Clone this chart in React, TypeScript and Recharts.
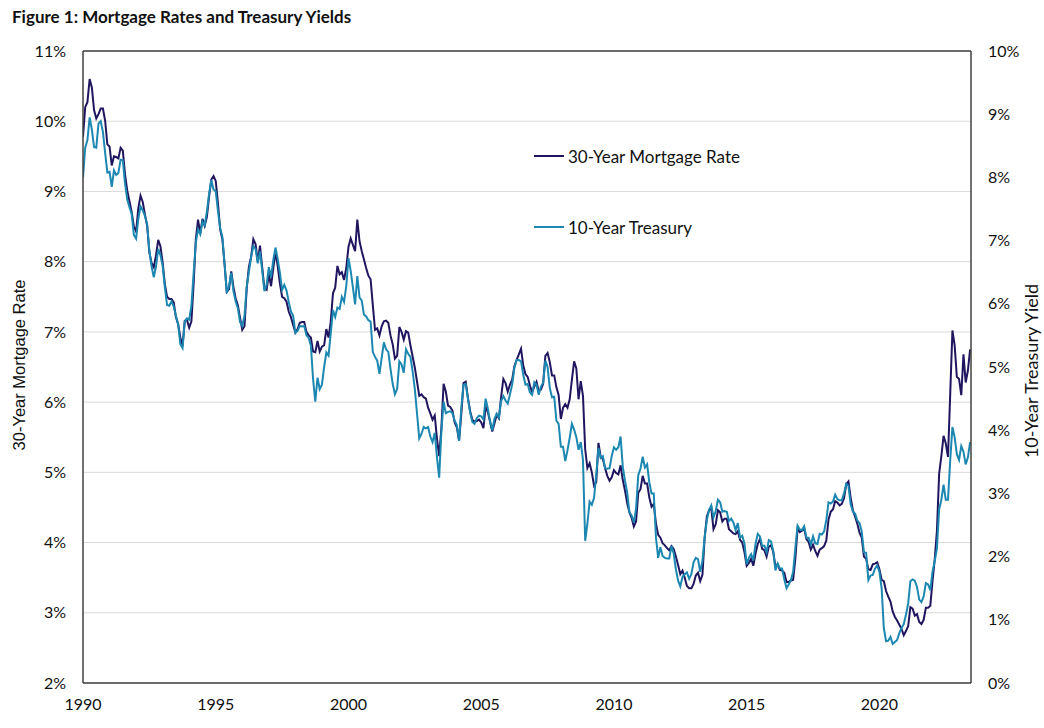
import React from "react";
import { LineChart, Line, XAxis, YAxis, CartesianGrid, ReferenceLine, Legend } from "recharts";

// Monthly observations, January 1990 through June 2023
const startYear = 1990;

// 30-Year fixed mortgage rate (%), left axis
const mortgageRate: number[] = [
  9.78, 10.2, 10.27, 10.6, 10.48, 10.16, 10.04, 10.1, 10.18, 10.18, 10.01, 9.67,
  9.64, 9.37, 9.5, 9.49, 9.47, 9.62, 9.58, 9.24, 9.01, 8.86, 8.71, 8.5,
  8.43, 8.76, 8.94, 8.85, 8.67, 8.51, 8.13, 7.98, 7.92, 8.09, 8.31, 8.22,
  7.99, 7.68, 7.5, 7.47, 7.47, 7.42, 7.21, 7.11, 6.92, 6.8, 7.16, 7.17,
  7.06, 7.15, 7.68, 8.32, 8.6, 8.4, 8.61, 8.51, 8.64, 8.93, 9.17, 9.22,
  9.15, 8.83, 8.46, 8.32, 7.96, 7.57, 7.61, 7.86, 7.64, 7.48, 7.38, 7.2,
  7.03, 7.08, 7.62, 7.93, 8.07, 8.32, 8.25, 8.0, 8.23, 7.92, 7.62, 7.6,
  7.82, 7.65, 7.9, 8.14, 7.94, 7.69, 7.5, 7.48, 7.43, 7.29, 7.21, 7.1,
  6.99, 7.04, 7.13, 7.14, 7.14, 7.0, 6.95, 6.92, 6.72, 6.71, 6.87, 6.72,
  6.79, 6.81, 7.04, 6.92, 7.15, 7.55, 7.63, 7.94, 7.82, 7.85, 7.74, 7.91,
  8.21, 8.33, 8.24, 8.15, 8.6, 8.29, 8.15, 8.03, 7.91, 7.8, 7.75, 7.38,
  7.03, 7.05, 6.95, 7.08, 7.15, 7.16, 7.13, 6.95, 6.82, 6.62, 6.66, 7.07,
  7.0, 6.89, 7.01, 6.99, 6.81, 6.65, 6.49, 6.29, 6.09, 6.11, 6.07, 6.05,
  5.92, 5.84, 5.75, 5.81, 5.48, 5.23, 5.63, 6.26, 6.15, 5.95, 5.93, 5.88,
  5.71, 5.64, 5.45, 5.83, 6.27, 6.29, 6.06, 5.87, 5.75, 5.72, 5.73, 5.75,
  5.71, 5.63, 5.93, 5.86, 5.72, 5.58, 5.7, 5.82, 5.77, 6.07, 6.33, 6.27,
  6.15, 6.25, 6.32, 6.51, 6.6, 6.68, 6.76, 6.52, 6.4, 6.36, 6.24, 6.14,
  6.22, 6.29, 6.16, 6.18, 6.26, 6.66, 6.7, 6.57, 6.38, 6.38, 6.21, 6.1,
  5.76, 5.92, 5.97, 5.92, 6.04, 6.32, 6.58, 6.48, 6.04, 6.3, 6.09, 5.33,
  5.06, 5.13, 5.0, 4.81, 4.86, 5.42, 5.22, 5.19, 5.06, 4.95, 4.88, 4.93,
  5.03, 4.99, 4.97, 5.1, 4.89, 4.74, 4.56, 4.43, 4.35, 4.23, 4.3, 4.71,
  4.76, 4.95, 4.84, 4.84, 4.64, 4.51, 4.55, 4.27, 4.11, 4.07, 3.99, 3.96,
  3.92, 3.89, 3.95, 3.91, 3.8, 3.68, 3.55, 3.6, 3.5, 3.38, 3.35, 3.35,
  3.41, 3.53, 3.57, 3.45, 3.54, 4.07, 4.37, 4.46, 4.49, 4.19, 4.26, 4.46,
  4.43, 4.3, 4.34, 4.34, 4.19, 4.16, 4.13, 4.12, 4.16, 4.04, 4.0, 3.86,
  3.67, 3.71, 3.77, 3.67, 3.84, 3.98, 4.05, 3.91, 3.89, 3.8, 3.94, 3.96,
  3.87, 3.66, 3.69, 3.61, 3.6, 3.57, 3.44, 3.44, 3.46, 3.47, 3.77, 4.2,
  4.15, 4.17, 4.2, 4.05, 4.01, 3.9, 3.97, 3.88, 3.81, 3.9, 3.92, 3.95,
  4.03, 4.33, 4.44, 4.47, 4.59, 4.57, 4.53, 4.55, 4.63, 4.83, 4.87, 4.64,
  4.46, 4.37, 4.27, 4.14, 4.07, 3.8, 3.77, 3.62, 3.61, 3.69, 3.7, 3.72,
  3.62, 3.47, 3.45, 3.31, 3.23, 3.16, 3.02, 2.94, 2.89, 2.83, 2.77, 2.68,
  2.74, 2.81, 3.08, 3.06, 2.96, 2.98, 2.87, 2.84, 2.9, 3.07, 3.07, 3.1,
  3.45, 3.76, 4.17, 4.98, 5.23, 5.52, 5.41, 5.22, 6.11, 7.02, 6.81, 6.36,
  6.33, 6.1, 6.68, 6.28, 6.45, 6.75,
];

// 10-Year Treasury yield (%), right axis
const treasuryYield: number[] = [
  8.0, 8.47, 8.59, 8.95, 8.76, 8.48, 8.47, 8.85, 8.89, 8.72, 8.39, 8.08,
  8.09, 7.85, 8.11, 8.04, 8.07, 8.28, 8.27, 7.9, 7.65, 7.53, 7.42, 7.09,
  7.03, 7.34, 7.54, 7.48, 7.39, 7.26, 6.84, 6.59, 6.42, 6.59, 6.87, 6.77,
  6.6, 6.26, 5.98, 5.97, 6.04, 5.96, 5.81, 5.68, 5.36, 5.3, 5.72, 5.77,
  5.75, 5.97, 6.48, 6.97, 7.18, 7.1, 7.3, 7.24, 7.46, 7.74, 7.96, 7.81,
  7.78, 7.47, 7.2, 7.06, 6.63, 6.17, 6.28, 6.49, 6.2, 6.04, 5.93, 5.71,
  5.65, 5.81, 6.27, 6.51, 6.74, 6.91, 6.87, 6.64, 6.83, 6.53, 6.2, 6.3,
  6.58, 6.42, 6.69, 6.89, 6.71, 6.49, 6.22, 6.3, 6.21, 6.03, 5.88, 5.81,
  5.54, 5.57, 5.65, 5.64, 5.65, 5.5, 5.46, 5.34, 4.81, 4.45, 4.83, 4.65,
  4.72, 5.0, 5.23, 5.18, 5.54, 5.9, 5.79, 5.94, 5.92, 6.11, 6.03, 6.28,
  6.72, 6.52, 6.26, 5.99, 6.44, 6.1, 6.05, 5.83, 5.8, 5.74, 5.72, 5.24,
  5.16, 5.1, 4.89, 5.14, 5.39, 5.28, 5.24, 4.97, 4.73, 4.57, 4.65, 5.09,
  5.04, 4.91, 5.28, 5.21, 5.16, 4.93, 4.65, 4.26, 3.87, 3.94, 4.05, 4.03,
  4.05, 3.9, 3.81, 3.96, 3.57, 3.25, 3.98, 4.45, 4.27, 4.29, 4.3, 4.27,
  4.15, 4.08, 3.83, 4.35, 4.72, 4.73, 4.5, 4.28, 4.13, 4.1, 4.19, 4.23,
  4.22, 4.17, 4.5, 4.34, 4.14, 4.0, 4.18, 4.26, 4.2, 4.46, 4.54, 4.47,
  4.42, 4.57, 4.72, 4.99, 5.11, 5.11, 5.09, 4.88, 4.72, 4.73, 4.6, 4.56,
  4.76, 4.72, 4.56, 4.69, 4.75, 5.1, 5.0, 4.67, 4.52, 4.53, 4.15, 4.1,
  3.74, 3.74, 3.51, 3.68, 3.88, 4.1, 4.01, 3.89, 3.69, 3.81, 3.53, 2.25,
  2.52, 2.87, 2.82, 2.93, 3.29, 3.72, 3.56, 3.59, 3.4, 3.39, 3.4, 3.59,
  3.73, 3.69, 3.73, 3.9, 3.42, 3.2, 3.01, 2.7, 2.65, 2.54, 2.76, 3.29,
  3.39, 3.58, 3.41, 3.46, 3.17, 3.0, 3.0, 2.3, 1.98, 2.15, 2.01, 1.98,
  1.97, 1.97, 2.17, 2.05, 1.8, 1.62, 1.53, 1.68, 1.72, 1.75, 1.65, 1.72,
  1.91, 1.98, 1.96, 1.76, 1.93, 2.3, 2.58, 2.74, 2.81, 2.62, 2.72, 2.9,
  2.86, 2.71, 2.72, 2.71, 2.56, 2.6, 2.54, 2.42, 2.53, 2.3, 2.33, 2.21,
  1.88, 1.98, 2.04, 1.94, 2.2, 2.36, 2.32, 2.17, 2.17, 2.07, 2.26, 2.24,
  2.09, 1.78, 1.89, 1.81, 1.81, 1.64, 1.5, 1.56, 1.63, 1.76, 2.14, 2.49,
  2.43, 2.42, 2.48, 2.3, 2.3, 2.19, 2.32, 2.21, 2.2, 2.36, 2.35, 2.4,
  2.58, 2.86, 2.84, 2.87, 2.98, 2.91, 2.89, 2.89, 3.0, 3.15, 3.12, 2.83,
  2.71, 2.68, 2.57, 2.53, 2.4, 2.07, 2.06, 1.63, 1.7, 1.71, 1.81, 1.86,
  1.76, 1.5, 0.87, 0.66, 0.67, 0.73, 0.62, 0.65, 0.68, 0.79, 0.87, 0.93,
  1.08, 1.26, 1.61, 1.64, 1.62, 1.52, 1.32, 1.28, 1.37, 1.58, 1.56, 1.47,
  1.76, 1.93, 2.13, 2.75, 2.9, 3.14, 2.9, 2.9, 3.52, 4.05, 3.89, 3.62,
  3.53, 3.75, 3.66, 3.46, 3.57, 3.81,
];

const yearTicks = [1990, 1995, 2000, 2005, 2010, 2015, 2020];
const leftTicks = [2, 3, 4, 5, 6, 7, 8, 9, 10, 11];
const rightTicks = [0, 1, 2, 3, 4, 5, 6, 7, 8, 9, 10];

const seriesOrder = ["mortgage", "treasury"];
const seriesNames = { mortgage: "30-Year Mortgage Rate", treasury: "10-Year Treasury" };
const titleText = "Figure 1: Mortgage Rates and Treasury Yields";
const leftAxisTitle = "30-Year Mortgage Rate";
const rightAxisTitle = "10-Year Treasury Yield";

const data = mortgageRate.map((m, i) => ({
  t: startYear + i / 12,
  mortgage: m,
  treasury: treasuryYield[i],
}));

const FONT = "Lato, 'Open Sans', sans-serif";
const MORTGAGE_COLOR = "#201660";
const TREASURY_COLOR = "#1C88B2";
const TEXT_COLOR = "#111";

const LegendContent = (props: any) => {
  const payload = [...(props.payload || [])].sort(
    (a: any, b: any) => seriesOrder.indexOf(a.dataKey) - seriesOrder.indexOf(b.dataKey)
  );
  return (
    <div style={{ fontFamily: FONT, fontSize: 17, color: TEXT_COLOR }}>
      {payload.map((p: any, i: number) => (
        <div
          key={i}
          style={{ display: "flex", alignItems: "center", height: 20, marginBottom: i === 0 ? 51 : 0 }}
        >
          <div style={{ width: 30, height: 2.5, background: p.color, marginRight: 4 }} />
          <span style={{ whiteSpace: "nowrap" }}>{p.value}</span>
        </div>
      ))}
    </div>
  );
};

export default function App() {
  const tickStyle = { fontFamily: FONT, fontSize: 16, fill: TEXT_COLOR };
  return (
    <div style={{ position: "absolute", left: 0, top: 0, width: 1044, height: 728, background: "#fff" }}>
      <div
        style={{
          position: "absolute",
          left: 12,
          top: 6,
          fontFamily: FONT,
          fontWeight: 700,
          fontSize: 17,
          color: TEXT_COLOR,
          whiteSpace: "nowrap",
        }}
      >
        {titleText}
      </div>
      <div
        style={{
          position: "absolute",
          left: 19,
          top: 365,
          transform: "translate(-50%, -50%) rotate(-90deg)",
          fontFamily: "'Liberation Sans', Arial, sans-serif",
          fontSize: 16.5,
          color: TEXT_COLOR,
          whiteSpace: "nowrap",
        }}
      >
        {leftAxisTitle}
      </div>
      <div
        style={{
          position: "absolute",
          left: 1031,
          top: 371,
          transform: "translate(-50%, -50%) rotate(-90deg)",
          fontFamily: FONT,
          fontSize: 18,
          color: TEXT_COLOR,
          whiteSpace: "nowrap",
        }}
      >
        {rightAxisTitle}
      </div>
      <LineChart
        width={1044}
        height={728}
        data={data}
        margin={{ top: 51, right: 0, bottom: 0, left: 0 }}
        style={{ position: "absolute", left: 0, top: 0 }}
      >
        <CartesianGrid horizontal={true} vertical={false} stroke="#d9d9d9" strokeWidth={1} yAxisId="left" />
        <XAxis
          dataKey="t"
          type="number"
          domain={[1990, 2023.45]}
          ticks={yearTicks}
          tickFormatter={(v: number) => String(v)}
          height={45}
          tickSize={0}
          tickMargin={16}
          tick={tickStyle}
          axisLine={{ stroke: "#404040", strokeWidth: 1.5 }}
          allowDataOverflow
        />
        <YAxis
          yAxisId="left"
          orientation="left"
          domain={[2, 11]}
          ticks={leftTicks}
          tickFormatter={(v: number) => `${v}%`}
          width={83}
          tickSize={0}
          tickMargin={17}
          tick={tickStyle}
          axisLine={{ stroke: "#404040", strokeWidth: 1.5 }}
          interval={0}
        />
        <YAxis
          yAxisId="right"
          orientation="right"
          domain={[0, 10]}
          ticks={rightTicks}
          tickFormatter={(v: number) => `${v}%`}
          width={73}
          tickSize={0}
          tickMargin={17}
          tick={{ ...tickStyle, textAnchor: "start" }}
          axisLine={{ stroke: "#404040", strokeWidth: 1.5 }}
          interval={0}
        />
        <ReferenceLine yAxisId="left" y={11} stroke="#404040" strokeWidth={1.5} />
        <Legend
          layout="vertical"
          align="center"
          verticalAlign="middle"
          wrapperStyle={{ left: 534, top: 146, width: 260 }}
          content={<LegendContent />}
        />
        <Line
          yAxisId="left"
          type="linear"
          dataKey="mortgage"
          name={seriesNames.mortgage}
          stroke={MORTGAGE_COLOR}
          strokeWidth={2}
          dot={false}
          isAnimationActive={false}
        />
        <Line
          yAxisId="right"
          type="linear"
          dataKey="treasury"
          name={seriesNames.treasury}
          stroke={TREASURY_COLOR}
          strokeWidth={2}
          dot={false}
          isAnimationActive={false}
        />
      </LineChart>
    </div>
  );
}
